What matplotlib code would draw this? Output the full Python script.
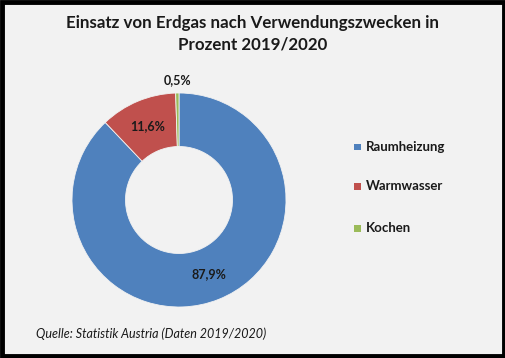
import numpy as np
import matplotlib.pyplot as plt
from matplotlib.patches import Rectangle

# Einsatz von Erdgas nach Verwendungszwecken
kategorien = ['Raumheizung', 'Warmwasser', 'Kochen']
anteile = [87.9, 11.6, 0.5]
beschriftung = ['87,9%', '11,6%', '0,5%']
farben = ['#4f81bd', '#c0504d', '#9bbb59']

plt.rcParams['font.family'] = ['Lato', 'DejaVu Sans']

fig = plt.figure(figsize=(5.06, 3.58), dpi=100, facecolor='#f2f2f2')

# Rahmen
fig.patches.append(Rectangle((0.004, 0.006), 0.992, 0.988, transform=fig.transFigure,
                             fill=False, edgecolor='black', linewidth=3.5))

fig.text(0.5, 1 - 34 / 358, 'Einsatz von Erdgas nach Verwendungszwecken in\nProzent 2019/2020',
         ha='center', va='center', fontsize=12.2, fontweight='bold', linespacing=1.4,
         color='#1a1a1a')

# Donut: Mittelpunkt ca. (179, 200) px, Radius ca. 107 px
r_px = 107
ax = fig.add_axes([(179 - r_px) / 506, (358 - 200 - r_px) / 358, 2 * r_px / 506, 2 * r_px / 358])
ax.set_facecolor('none')
wedges, _ = ax.pie(anteile, colors=farben, startangle=90, counterclock=False,
                   radius=1.0, wedgeprops=dict(width=0.5, edgecolor='#f2f2f2', linewidth=0.6))
ax.set_xlim(-1, 1)
ax.set_ylim(-1, 1)
ax.set_aspect('equal')
ax.axis('off')

# Datenbeschriftungen
winkel_start = 90
cum = 0
for i, (w, txt) in enumerate(zip(anteile, beschriftung)):
    mitte = winkel_start - (cum + w / 2) / 100 * 360
    cum += w
    rad = np.deg2rad(mitte)
    r = 1.12 if i == 2 else 0.75
    ax.text(r * np.cos(rad), r * np.sin(rad), txt, ha='center', va='center',
            fontsize=9, fontweight='bold', color='#1a1a1a')

# Legende
leg_y = [147, 186, 228]
for kat, f, y in zip(kategorien, farben, leg_y):
    fig.patches.append(Rectangle((354 / 506, (358 - y - 3.5) / 358), 7 / 506, 7 / 358,
                                 transform=fig.transFigure, facecolor=f, edgecolor='none'))
    fig.text(366 / 506, (358 - y) / 358, kat, ha='left', va='center', fontsize=9.5,
             fontweight='bold', color='#1a1a1a')

fig.text(36 / 506, (358 - 334) / 358, 'Quelle: Statistik Austria (Daten 2019/2020)',
         ha='left', va='center', fontsize=9, style='italic', color='#1a1a1a')

fig.savefig('out.png', dpi=100, facecolor=fig.get_facecolor())
